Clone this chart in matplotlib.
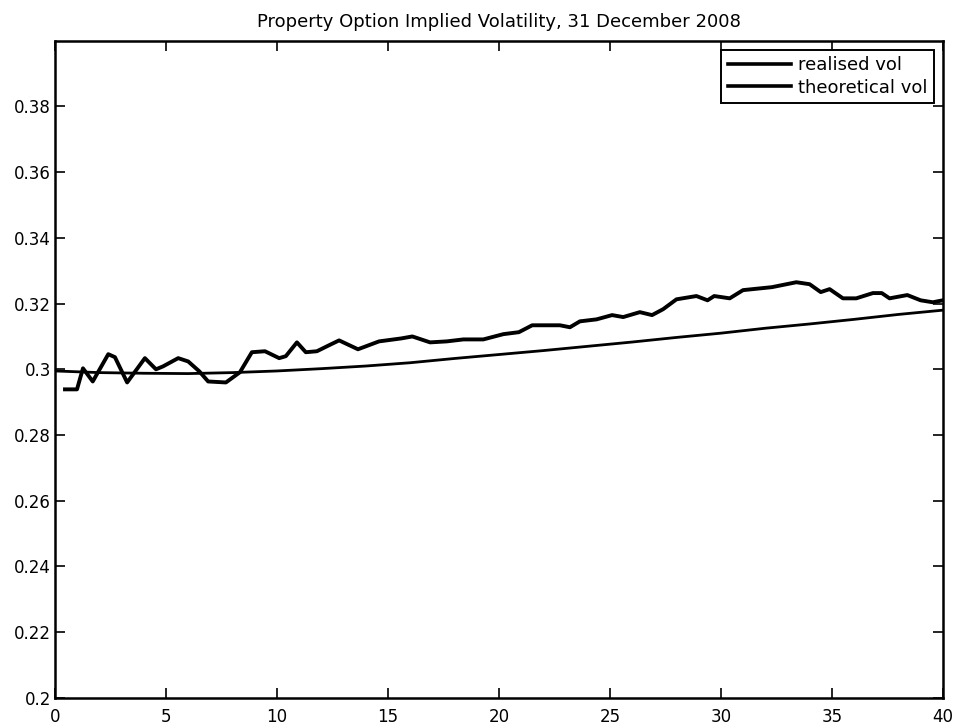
import numpy as np
import matplotlib
matplotlib.use("Agg")
import matplotlib.pyplot as plt

plt.rcParams["font.family"] = ["DejaVu Sans"]

# realised vol
realised_x = [0.45, 0.99, 1.26, 1.7, 2.4, 2.7, 3.25, 4.05, 4.55, 4.87, 5.55, 6.0, 6.5, 6.9,
              7.7, 8.33, 8.87, 9.46, 10.1, 10.4, 10.9, 11.3, 11.8, 12.4, 12.8, 13.65, 14.6,
              15.6, 16.1, 16.9, 17.65, 18.4, 19.3, 20.2, 20.9, 21.5, 22.75, 23.2, 23.65, 24.4,
              25.1, 25.6, 26.35, 26.9, 27.4, 28.0, 28.9, 29.4, 29.7, 30.4, 31.0, 32.3, 33.4,
              34.0, 34.5, 34.9, 35.5, 36.1, 36.85, 37.25, 37.6, 38.4, 39.0, 39.55, 40.0]
realised_y = [0.2939, 0.2939, 0.3003, 0.2963, 0.3046, 0.3037, 0.2960, 0.3034, 0.3000, 0.3009,
              0.3034, 0.3024, 0.2994, 0.2963, 0.2960, 0.2991, 0.3052, 0.3055, 0.3034, 0.3040,
              0.3082, 0.3052, 0.3055, 0.3075, 0.3088, 0.3061, 0.3085, 0.3094, 0.3100, 0.3082,
              0.3085, 0.3091, 0.3091, 0.3107, 0.3113, 0.3134, 0.3134, 0.3128, 0.3146, 0.3152,
              0.3165, 0.3159, 0.3174, 0.3165, 0.3183, 0.3213, 0.3223, 0.3210, 0.3223, 0.3216,
              0.3241, 0.3250, 0.3265, 0.3259, 0.3235, 0.3244, 0.3216, 0.3216, 0.3232, 0.3232,
              0.3216, 0.3226, 0.3210, 0.3204, 0.3210]

# theoretical vol
theo_x = [0, 2, 4, 6, 8, 10, 12, 14, 16, 18, 20, 22, 24, 26, 28, 30, 32, 34, 36, 38, 40]
theo_y = [0.2995, 0.2990, 0.2988, 0.2987, 0.2990, 0.2995, 0.3002, 0.3010, 0.3020, 0.3033,
          0.3045, 0.3057, 0.3070, 0.3083, 0.3097, 0.3110, 0.3125, 0.3138, 0.3152, 0.3167, 0.3180]

x_ticks = [0, 5, 10, 15, 20, 25, 30, 35, 40]
y_ticks = [0.2, 0.22, 0.24, 0.26, 0.28, 0.3, 0.32, 0.34, 0.36, 0.38]
y_labels = ["0.2", "0.22", "0.24", "0.26", "0.28", "0.3", "0.32", "0.34", "0.36", "0.38"]

fig = plt.figure(figsize=(9.65, 7.27), dpi=100)
ax = fig.add_axes([0.057, 0.040, 0.920, 0.904])

ax.plot(realised_x, realised_y, color="black", linewidth=2.8, label="realised vol")
ax.plot(theo_x, theo_y, color="black", linewidth=2.0, label="theoretical vol")

ax.set_xlim(0, 40)
ax.set_ylim(0.2, 0.4)
ax.set_xticks(x_ticks)
ax.set_yticks(y_ticks)
ax.set_yticklabels(y_labels)
ax.tick_params(direction="in", length=7, width=1.2, top=True, right=True, labelsize=12)
ax.tick_params(axis="x", pad=7)
ax.tick_params(axis="y", pad=3)
for s in ax.spines.values():
    s.set_linewidth(1.8)

ax.set_title("Property Option Implied Volatility, 31 December 2008", fontsize=13, pad=10)

leg = ax.legend(loc="upper right", fancybox=False, edgecolor="black", framealpha=1,
                fontsize=13, handlelength=3.5, borderaxespad=0.5, borderpad=0.35,
                labelspacing=0.25, handletextpad=0.4)
leg.get_frame().set_linewidth(1.4)
for h in leg.get_lines():
    h.set_linewidth(2.6)

fig.savefig("out.png", dpi=100)
